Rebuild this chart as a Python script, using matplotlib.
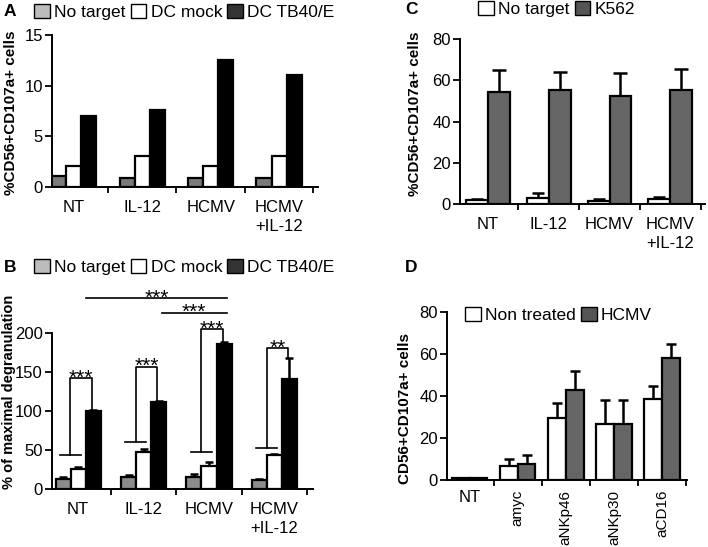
import matplotlib
matplotlib.use('Agg')
import matplotlib.pyplot as plt
from matplotlib.patches import Patch
import numpy as np

plt.rcParams['font.family'] = ['Liberation Sans', 'DejaVu Sans']

# ---------------- data ----------------
groups_ab = ['NT', 'IL-12', 'HCMV', 'HCMV\n+IL-12']

a_no_target = [1.05, 0.9, 0.9, 0.9]
a_dc_mock = [2.05, 3.05, 2.05, 3.1]
a_dc_tb40 = [7.05, 7.6, 12.55, 11.05]

b_no_target = [13, 16, 15.5, 12]
b_no_target_err = [2, 2, 4, 1]
b_dc_mock = [26, 47, 30, 43]
b_dc_mock_err = [2, 4, 5, 2]
b_dc_tb40 = [100.5, 111, 186, 141.5]
b_dc_tb40_err = [1, 1.5, 3, 27]

# significance annotations for panel B
b_hline_level = [44, 60, 47, 52]
b_bracket_top = [142, 157, 205, 181]
b_bracket_stars = ['***', '***', '***', '**']
b_top_lines = [(0.12, 2.27, 245, '***'), (1.28, 2.27, 226, '***')]

groups_c = ['NT', 'IL-12', 'HCMV', 'HCMV\n+IL-12']
c_no_target = [1.9, 3.1, 1.6, 2.3]
c_no_target_err = [0.7, 2.1, 0.8, 1.3]
c_k562 = [54.3, 55.1, 52.2, 55.4]
c_k562_err = [10.5, 9.0, 11.3, 10.2]

groups_d = ['NT', 'amyc', 'aNKp46', 'aNKp30', 'aCD16']
d_non_treated = [1.0, 6.6, 29.6, 26.5, 38.8]
d_non_treated_err = [0, 3.2, 7.1, 11.7, 5.9]
d_hcmv = [1.0, 7.6, 42.8, 26.5, 58.3]
d_hcmv_err = [0, 4.4, 9.3, 11.8, 6.3]

# ---------------- layout ----------------
W, H = 708, 547
fig = plt.figure(figsize=(W / 100, H / 100), dpi=100)


def add_ax(left, right, top, bottom):
    return fig.add_axes([left / W, 1 - bottom / H, (right - left) / W, (bottom - top) / H])


def style(ax, n, labels, xlim, ylim, yticks):
    for s in ['top', 'right']:
        ax.spines[s].set_visible(False)
    for s in ['left', 'bottom']:
        ax.spines[s].set_linewidth(1.4)
    ax.set_xlim(*xlim)
    ax.set_ylim(*ylim)
    ax.set_yticks(yticks)
    ax.set_xticks(np.arange(n))
    ax.set_xticklabels(labels, fontsize=12, linespacing=1.35)
    ax.set_xticks(np.arange(n) + 0.5, minor=True)
    ax.tick_params(axis='x', which='major', length=0, pad=9)
    ax.tick_params(axis='x', which='minor', length=4, width=1.3, direction='out')
    ax.tick_params(axis='y', length=5, width=1.3, labelsize=12, pad=1.5)
    for lbl in ax.get_xticklabels():
        lbl.set_va('top')


EDGE = dict(edgecolor='black', linewidth=1.6)
ERR = dict(fmt='none', ecolor='black', elinewidth=1.8, capthick=1.8)

# ---------------- Panel A ----------------
axA = add_ax(52, 318, 35, 187)
x = np.arange(len(groups_ab))
w = 0.22
axA.bar(x - w, a_no_target, w, color='#7a7a7a', **EDGE)
axA.bar(x, a_dc_mock, w, color='white', **EDGE)
axA.bar(x + w, a_dc_tb40, w, color='black', **EDGE)
style(axA, 4, groups_ab, (-0.32, 3.57), (0, 15), [0, 5, 10, 15])

# ---------------- Panel B ----------------
axB = add_ax(52, 313, 333, 489)
w = 0.23
axB.bar(x - w, b_no_target, w, color='#8c8c8c', **EDGE, zorder=3)
axB.bar(x, b_dc_mock, w, color='white', **EDGE, zorder=3)
axB.bar(x + w, b_dc_tb40, w, color='black', **EDGE, zorder=3)
zeros = np.zeros(4)
axB.errorbar(x - w, b_no_target, yerr=[zeros, b_no_target_err], capsize=3, **ERR, zorder=2)
axB.errorbar(x, b_dc_mock, yerr=[zeros, b_dc_mock_err], capsize=3, **ERR, zorder=2)
axB.errorbar(x + w, b_dc_tb40, yerr=[zeros, b_dc_tb40_err], capsize=3, **ERR, zorder=2)
style(axB, 4, groups_ab, (-0.40, 3.59), (0, 200), [0, 50, 100, 150, 200])

LW = 1.2
STAR = dict(xytext=(0, -4), textcoords='offset points', ha='center', va='baseline',
            fontsize=15, annotation_clip=False)
for i in range(4):
    hl = b_hline_level[i]
    top = b_bracket_top[i]
    rb = b_dc_tb40[i] + b_dc_tb40_err[i]
    xl, xr = i - 0.12, i + 0.21
    axB.plot([i - 0.28, i + 0.04], [hl, hl], color='black', lw=LW, clip_on=False)
    axB.plot([xl, xl, xr, xr], [hl, top, top, rb], color='black', lw=LW, clip_on=False)
    axB.annotate(b_bracket_stars[i], ((xl + xr) / 2, top), **STAR)
for x0, x1, yv, st in b_top_lines:
    axB.plot([x0, x1], [yv, yv], color='black', lw=LW, clip_on=False)
    axB.annotate(st, ((x0 + x1) / 2, yv), **STAR)

# ---------------- Panel C ----------------
axC = add_ax(460, 705, 39, 204)
xc = np.arange(len(groups_c))
w = 0.36
axC.bar(xc - w / 2, c_no_target, w, color='white', **EDGE, zorder=3)
axC.bar(xc + w / 2, c_k562, w, color='#666666', **EDGE, zorder=3)
zc = np.zeros(4)
axC.errorbar(xc - w / 2, c_no_target, yerr=[zc, c_no_target_err], capsize=4, **ERR, zorder=2)
axC.errorbar(xc + w / 2, c_k562, yerr=[zc, c_k562_err], capsize=5, **ERR, zorder=2)
style(axC, 4, groups_c, (-0.46, 3.57), (0, 80), [0, 20, 40, 60, 80])

# ---------------- Panel D ----------------
axD = add_ax(447, 687, 312, 480)
xd = np.arange(len(groups_d))
w = 0.37
axD.bar(xd - w / 2, d_non_treated, w, color='white', **EDGE, zorder=3)
axD.bar(xd + w / 2, d_hcmv, w, color='#666666', **EDGE, zorder=3)
zd = np.zeros(5)
axD.errorbar(xd[1:] - w / 2, d_non_treated[1:], yerr=[zd[1:], d_non_treated_err[1:]], capsize=3.5, **ERR, zorder=2)
axD.errorbar(xd[1:] + w / 2, d_hcmv[1:], yerr=[zd[1:], d_hcmv_err[1:]], capsize=3.5, **ERR, zorder=2)
style(axD, 5, groups_d, (-0.47, 4.52), (0, 80), [0, 20, 40, 60, 80])
axD.tick_params(axis='x', which='major', pad=7)
for lbl in axD.get_xticklabels()[1:]:
    lbl.set_rotation(90)
    lbl.set_va('top')
    lbl.set_ha('center')
    lbl.set_fontsize(11)

# ---------------- legends ----------------
def legend(handles, labels, px, py, ncol):
    fig.legend(handles, labels, loc='center left', bbox_to_anchor=(px / W, 1 - py / H),
               ncol=ncol, frameon=False, borderpad=0, handlelength=0.9, handleheight=0.9,
               handletextpad=0.25, columnspacing=0.3, fontsize=12.5, borderaxespad=0)

pe = dict(edgecolor='black', linewidth=1.0)
hab = [Patch(facecolor='#bcbcbc', **pe), Patch(facecolor='white', **pe), Patch(facecolor='#333333', **pe)]
lab_ab = ['No target', 'DC mock', 'DC TB40/E']
legend(hab, lab_ab, 34, 12, 3)
legend(hab, lab_ab, 34, 267, 3)
legend([Patch(facecolor='white', **pe), Patch(facecolor='#555555', **pe)], ['No target', 'K562'], 478, 9, 2)
legend([Patch(facecolor='white', **pe), Patch(facecolor='#555555', **pe)], ['Non treated', 'HCMV'], 465, 315, 2)

# ---------------- panel letters & y labels ----------------
for letter, px, py in [('A', 10, 12), ('B', 10, 267), ('C', 411, 10), ('D', 411, 267)]:
    fig.text(px / W, 1 - py / H, letter, fontsize=12.5, fontweight='bold', ha='center', va='center')

for txt, px, py, fs in [('%CD56+CD107a+ cells', 11, 113, 11), ('% of maximal degranulation', 9, 392, 10.5),
                        ('%CD56+CD107a+ cells', 415, 114, 11), ('CD56+CD107a+ cells', 405, 408, 11)]:
    fig.text(px / W, 1 - py / H, txt, rotation=90, fontsize=fs, fontweight='bold',
             ha='center', va='center')

fig.savefig('out.png', dpi=100)
